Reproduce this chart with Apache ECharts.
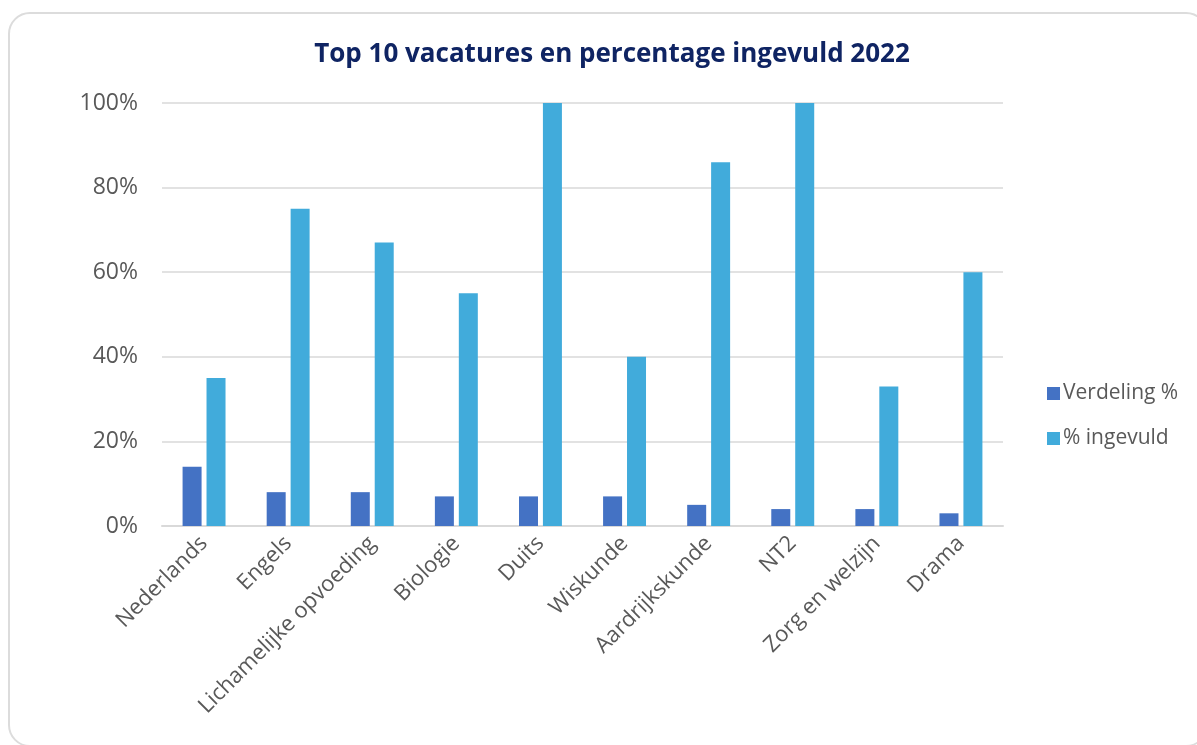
<!DOCTYPE html>
<html>
<head>
<meta charset="utf-8">
<script src="https://cdn.jsdelivr.net/npm/echarts@6/dist/echarts.min.js"></script>
<style>
    html, body { margin: 0; padding: 0; background: #ffffff; }
    #frame {
        position: absolute;
        left: 8px; top: 12px; width: 1200px; height: 735px;
        border: 2px solid #dcdcdc; border-radius: 22px;
        box-sizing: border-box;
    }
    #chart { position: absolute; left: 0; top: 0; width: 1197px; height: 745px; }
</style>
</head>
<body>
<div id="frame"></div>
<div id="chart"></div>
<script>
const categories = ['Nederlands', 'Engels', 'Lichamelijke opvoeding', 'Biologie', 'Duits',
    'Wiskunde', 'Aardrijkskunde', 'NT2', 'Zorg en welzijn', 'Drama'];
const verdeling = [14, 8, 8, 7, 7, 7, 5, 4, 4, 3];
const ingevuld = [35, 75, 67, 55, 100, 40, 86, 100, 33, 60];
const seriesNames = ['Verdeling %', '% ingevuld'];

const textColor = '#595959';
const font = '"Open Sans", "Noto Sans", sans-serif';

const chart = echarts.init(document.getElementById('chart'));

chart.setOption({
    animation: false,
    title: {
        text: 'Top 10 vacatures en percentage ingevuld 2022',
        left: 607,
        top: 37,
        textAlign: 'center',
        textStyle: { color: '#0f2463', fontSize: 26, fontWeight: 'bold', fontFamily: font },
    },
    legend: {
        orient: 'vertical',
        left: 1042,
        top: 378,
        itemWidth: 13,
        itemHeight: 13,
        itemGap: 24,
        icon: 'rect',
        textStyle: { color: textColor, fontSize: 21, fontFamily: font, padding: [0, 0, 0, -2] },
        data: seriesNames,
    },
    grid: { left: 162, right: 194, top: 103, bottom: 219, containLabel: false },
    xAxis: {
        type: 'category',
        data: categories,
        axisLine: { lineStyle: { color: '#d9d9d9', width: 2 } },
        axisTick: { show: false },
        axisLabel: {
            rotate: 45,
            color: textColor,
            fontSize: 22,
            fontFamily: font,
            margin: 14,
            interval: 0,
        },
    },
    yAxis: {
        type: 'value',
        min: 0,
        max: 100,
        interval: 20,
        axisLine: { show: false },
        axisTick: { show: false },
        splitLine: { lineStyle: { color: '#d9d9d9', width: 1.5 } },
        axisLabel: {
            formatter: '{value}%',
            color: textColor,
            fontSize: 23,
            fontFamily: font,
            margin: 24,
        },
    },
    series: [
        {
            name: seriesNames[0],
            type: 'bar',
            data: verdeling,
            barWidth: 19,
            barGap: '26%',
            itemStyle: { color: '#4472c4' },
        },
        {
            name: seriesNames[1],
            type: 'bar',
            data: ingevuld,
            barWidth: 19,
            itemStyle: { color: '#41abdb' },
        },
    ],
});
</script>
</body>
</html>
